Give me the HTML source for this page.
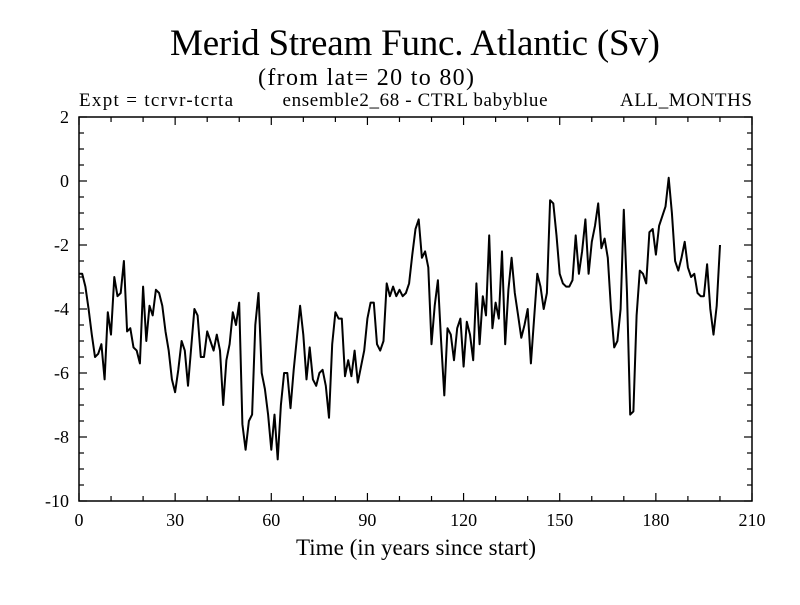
<!DOCTYPE html>
<html><head><meta charset="utf-8"><style>
body{margin:0;background:#fff;}
svg text{font-family:"Liberation Serif",serif;fill:#000;}
</style></head><body>
<svg id="chart" width="800" height="600">
<text x="415" y="55" font-size="37" text-anchor="middle" textLength="490">Merid Stream Func. Atlantic (Sv)</text>
<text x="366" y="85" font-size="24" text-anchor="middle" textLength="216">(from lat= 20 to 80)</text>
<text x="79" y="106" font-size="19" textLength="154">Expt = tcrvr-tcrta</text>
<text x="415" y="106" font-size="19" text-anchor="middle" textLength="265">ensemble2_68 - CTRL babyblue</text>
<text x="752" y="106" font-size="19" text-anchor="end" textLength="132">ALL_MONTHS</text>
<text x="416" y="555" font-size="23" text-anchor="middle" textLength="240">Time (in years since start)</text>
<g id="axes"></g>
<path id="line" fill="none" stroke="#000" stroke-width="2" stroke-linejoin="round"></path>
<rect x="79" y="117" width="673" height="384" fill="none" stroke="#000" stroke-width="1.5"/>
</svg>
<script>
const xTicks=[0,30,60,90,120,150,180,210];
const yTicks=[2,0,-2,-4,-6,-8,-10];
const values=[-2.9,-2.9,-3.3,-4.0,-4.8,-5.5,-5.4,-5.1,-6.2,-4.1,-4.8,-3.0,-3.6,-3.5,-2.5,-4.7,-4.6,-5.2,-5.3,-5.7,
-3.3,-5.0,-3.9,-4.2,-3.4,-3.5,-3.9,-4.7,-5.3,-6.2,-6.6,-5.9,-5.0,-5.3,-6.4,-5.2,-4.0,-4.2,-5.5,-5.5,
-4.7,-5.0,-5.3,-4.8,-5.3,-7.0,-5.6,-5.1,-4.1,-4.5,-3.8,-7.6,-8.4,-7.5,-7.3,-4.5,-3.5,-6.0,-6.5,-7.3,
-8.4,-7.3,-8.7,-7.0,-6.0,-6.0,-7.1,-5.9,-4.9,-3.9,-4.8,-6.2,-5.2,-6.2,-6.4,-6.0,-5.9,-6.4,-7.4,-5.1,
-4.1,-4.3,-4.3,-6.1,-5.6,-6.1,-5.3,-6.3,-5.8,-5.3,-4.3,-3.8,-3.8,-5.1,-5.3,-5.0,-3.2,-3.6,-3.3,-3.6,
-3.4,-3.6,-3.5,-3.2,-2.3,-1.5,-1.2,-2.4,-2.2,-2.7,-5.1,-3.9,-3.1,-5.0,-6.7,-4.6,-4.8,-5.6,-4.6,-4.3,
-5.8,-4.4,-4.8,-5.6,-3.2,-5.1,-3.6,-4.2,-1.7,-4.6,-3.8,-4.3,-2.2,-5.1,-3.4,-2.4,-3.5,-4.2,-4.9,-4.5,
-4.0,-5.7,-4.3,-2.9,-3.3,-4.0,-3.5,-0.6,-0.7,-1.7,-2.9,-3.2,-3.3,-3.3,-3.1,-1.7,-2.9,-2.2,-1.2,-2.9,
-1.9,-1.4,-0.7,-2.1,-1.8,-2.4,-4.0,-5.2,-5.0,-4.0,-0.9,-3.5,-7.3,-7.2,-4.2,-2.8,-2.9,-3.2,-1.6,-1.5,
-2.3,-1.4,-1.1,-0.8,0.1,-1.0,-2.5,-2.8,-2.4,-1.9,-2.7,-3.0,-2.9,-3.5,-3.6,-3.6,-2.6,-4.0,-4.8,-3.9,-2.0];
const X0=79,X1=752,Y0=501,Y1=117;
const sx=t=>X0+(t-0)/(210-0)*(X1-X0);
const sy=v=>Y0-(v+10)/(2+10)*(Y0-Y1);
const NS="http://www.w3.org/2000/svg";
const ax=document.getElementById('axes');
function ln(x1,y1,x2,y2){const l=document.createElementNS(NS,'line');l.setAttribute('x1',x1);l.setAttribute('y1',y1);l.setAttribute('x2',x2);l.setAttribute('y2',y2);l.setAttribute('stroke','#000');l.setAttribute('stroke-width','1.2');


ax.appendChild(l);}
function tx(x,y,s,a,name){const t=document.createElementNS(NS,'text');t.setAttribute('x',x);t.setAttribute('y',y);t.setAttribute('font-size','18');t.setAttribute('text-anchor',a);t.textContent=s;


ax.appendChild(t);}
for(let t=0;t<=210;t+=10){const major=t%30===0;const L=major?8:5;const x=sx(t);ln(x,Y0,x,Y0-L);ln(x,Y1,x,Y1+L);}
xTicks.forEach(t=>tx(sx(t),526,String(t),'middle','x-tick-label'));
for(let v=-10;v<=2;v+=0.5){const major=v%2===0;const L=major?8:5;const y=sy(v);ln(X0,y,X0+L,y);ln(X1,y,X1-L,y);}
yTicks.forEach(v=>tx(X0-10,sy(v)+6,String(v),'end','y-tick-label'));
document.getElementById('line').setAttribute('d',values.map((v,i)=>(i?'L':'M')+sx(i).toFixed(1)+','+sy(v).toFixed(1)).join(''));
</script>
</body></html>
